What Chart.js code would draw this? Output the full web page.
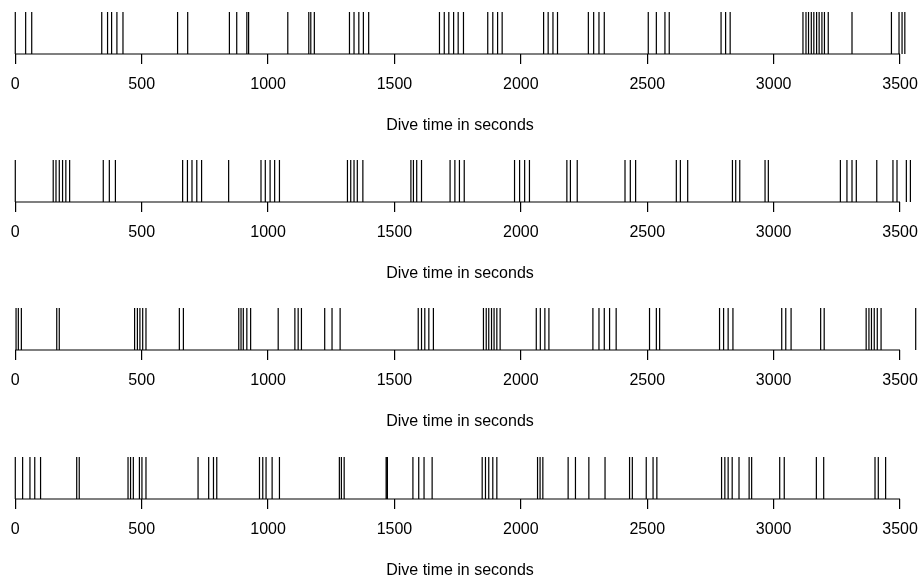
<!DOCTYPE html>
<html>
<head>
<meta charset="utf-8">
<script src="https://cdn.jsdelivr.net/npm/chart.js@4.4.0/dist/chart.umd.min.js"></script>
<style>
  body { margin: 0; background: #fff; }
  .panel { position: absolute; left: 0; width: 920px; height: 130px; }
</style>
</head>
<body>
<div class="panel" style="top:11.7px"><canvas id="rug1"></canvas></div>
<div class="panel" style="top:160px"><canvas id="rug2"></canvas></div>
<div class="panel" style="top:308.3px"><canvas id="rug3"></canvas></div>
<div class="panel" style="top:456.7px"><canvas id="rug4"></canvas></div>
<script>
// dive times (seconds) of each event, one list per dive
const dive1 = [0, 41, 65, 342, 365, 381, 402, 426, 642, 682, 847, 876, 916, 923, 1078, 1161, 1169, 1183,
    1322, 1340, 1359, 1377, 1398, 1678, 1697, 1715, 1734, 1752, 1773, 1869, 1889, 1908, 1926,
    2090, 2108, 2127, 2145, 2267, 2288, 2309, 2330, 2504, 2536, 2570, 2587, 2792, 2810, 2828,
    3116, 3128, 3138, 3149, 3159, 3170, 3180, 3191, 3201, 3216, 3310, 3466, 3496, 3508, 3519];
const dive2 = [0, 150, 161, 174, 187, 200, 215, 348, 372, 396, 662, 681, 699, 718, 737, 844,
    972, 989, 1008, 1026, 1045, 1314, 1327, 1340, 1353, 1375, 1565, 1575, 1588, 1607,
    1720, 1739, 1757, 1776, 1975, 1995, 2015, 2034, 2182, 2196, 2223, 2412, 2433, 2454,
    2615, 2631, 2660, 2837, 2850, 2866, 2966, 2979, 3264, 3290, 3310, 3327, 3408, 3472, 3488, 3525, 3541];
const dive3 = [3, 12, 24, 164, 174, 472, 483, 493, 504, 517, 649, 665, 884, 893, 902, 916, 931,
    1040, 1106, 1119, 1132, 1224, 1253, 1285, 1594, 1607, 1620, 1636, 1654,
    1852, 1863, 1873, 1884, 1894, 1905, 1918, 2061, 2077, 2095, 2111, 2285, 2309, 2330, 2351, 2377,
    2509, 2536, 2549, 2786, 2802, 2820, 2839, 3032, 3048, 3069, 3186, 3200,
    3366, 3377, 3387, 3398, 3410, 3425, 3562];
const dive4 = [0, 29, 58, 77, 100, 243, 253, 446, 456, 467, 491, 501, 517, 723, 765, 784, 797,
    966, 979, 992, 1016, 1045, 1282, 1290, 1301, 1467, 1472, 1573, 1596, 1617, 1649,
    1847, 1860, 1873, 1889, 1905, 2066, 2076, 2087, 2187, 2216, 2269, 2333, 2430, 2441,
    2496, 2523, 2538, 2794, 2807, 2820, 2836, 2863, 2903, 2913, 3024, 3042, 3169, 3198,
    3401, 3414, 3443];

const tickVals = [0, 500, 1000, 1500, 2000, 2500, 3000, 3500];
const axisTitle = 'Dive time in seconds';

// axis line only from first to last tick, like R's axis()
const axisLine = {
    id: 'axisLine',
    afterDraw(chart) {
        const x = chart.scales.x;
        const ctx = chart.ctx;
        const y = chart.chartArea.bottom;
        ctx.save();
        ctx.strokeStyle = '#000';
        ctx.lineWidth = 1.2;
        ctx.beginPath();
        ctx.moveTo(x.getPixelForValue(tickVals[0]), y);
        ctx.lineTo(x.getPixelForValue(tickVals[tickVals.length - 1]), y);
        ctx.stroke();
        ctx.restore();
    }
};

function rugPoints(times) {
    return times.flatMap(t => [{x: t, y: 0}, {x: t, y: 1}, {x: t, y: null}]);
}

function makeRug(id, times) {
    new Chart(document.getElementById(id), {
        type: 'scatter',
        data: {
            datasets: [{
                data: rugPoints(times),
                showLine: true,
                spanGaps: false,
                borderColor: '#000',
                borderWidth: 1.2,
                pointRadius: 0,
            }]
        },
        options: {
            responsive: true,
            maintainAspectRatio: false,
            animation: false,
            layout: { padding: 0 },
            plugins: { legend: { display: false }, tooltip: { enabled: false } },
            scales: {
                x: {
                    type: 'linear',
                    min: -60.5,
                    max: 3579,
                    afterBuildTicks: s => { s.ticks = tickVals.map(v => ({ value: v })); },
                    afterFit: s => {
                        s.height = 88;
                        s.paddingLeft = 0;
                        s.paddingRight = 0;
                    },
                    border: { display: false },
                    grid: { drawOnChartArea: false, drawTicks: true, tickLength: 10, color: '#000', lineWidth: 1.2 },
                    ticks: {
                        padding: 11,
                        maxRotation: 0,
                        autoSkip: false,
                        color: '#000',
                        font: { family: 'Liberation Sans, Arial, sans-serif', size: 16 },
                        callback: v => String(v)
                    },
                    title: {
                        display: true,
                        text: axisTitle,
                        color: '#000',
                        padding: { top: 0, bottom: 7 },
                        font: { family: 'Liberation Sans, Arial, sans-serif', size: 16 }
                    }
                },
                y: { display: false, min: 0, max: 1 }
            }
        },
        plugins: [axisLine]
    });
}

makeRug('rug1', dive1);
makeRug('rug2', dive2);
makeRug('rug3', dive3);
makeRug('rug4', dive4);
</script>
</body>
</html>
